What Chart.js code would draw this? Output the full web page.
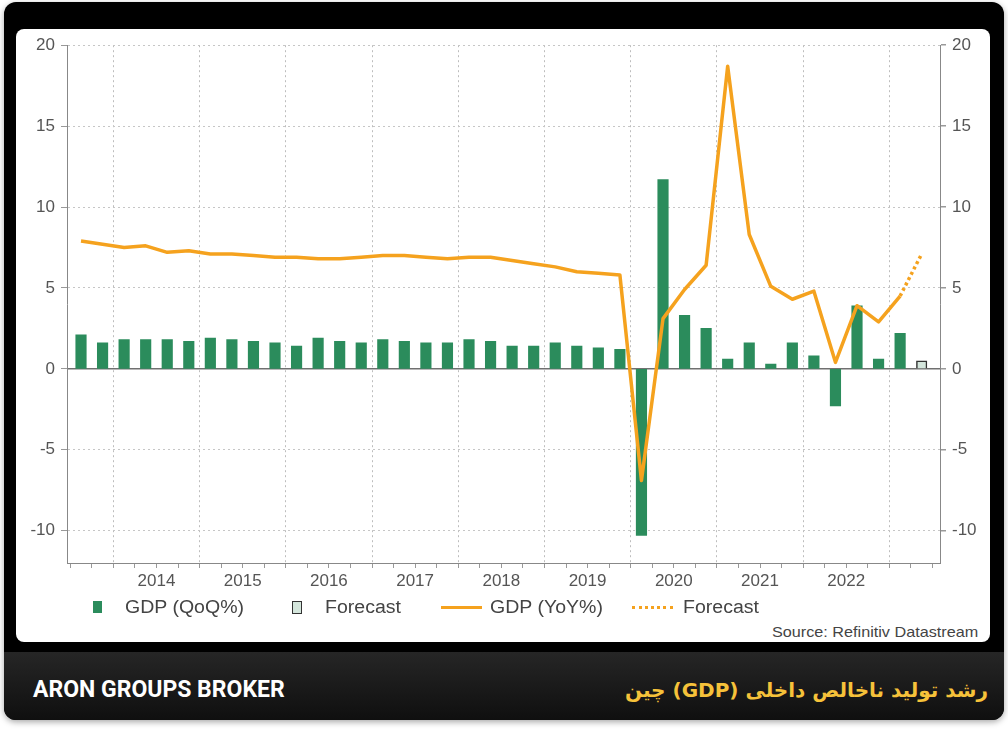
<!DOCTYPE html>
<html lang="en">
<head>
<meta charset="UTF-8">
<title>China GDP growth</title>
<script src="https://cdn.jsdelivr.net/npm/chart.js"></script>
<style>
  body {
    margin: 0;
    width: 1008px;
    height: 731px;
    position: relative;
    background: #fff;
    font-family: "Liberation Sans", Arial, sans-serif;
    overflow: hidden;
  }
  .card {
    position: absolute;
    left: 4px; top: 2px;
    width: 1000px; height: 718px;
    background: #000;
    border-radius: 12px;
    box-shadow: 0 2px 6px rgba(0, 0, 0, 0.35);
  }
  .panel {
    position: absolute;
    left: 16px; top: 29px;
    width: 974px; height: 613px;
    background: #fff;
    border-radius: 8px;
  }
  #chart { position: absolute; left: 16px; top: 29px; }
  .footer {
    position: absolute;
    left: 4px; top: 652px;
    width: 1000px; height: 68px;
    background: linear-gradient(#262626, #0f0f0f);
    border-radius: 0 0 12px 12px;
  }
  .brand {
    position: absolute;
    left: 33px; top: 676px;
    color: #fff;
    font-family: Roboto, "Liberation Sans", sans-serif;
    font-weight: 700;
    font-size: 23px;
    line-height: 28px;
  }
  .title {
    position: absolute;
    right: 20px; top: 675px;
    color: #f6c23a;
    font-family: "DejaVu Sans", sans-serif;
    font-weight: 700;
    font-size: 20px;
    line-height: 30px;
    direction: rtl;
  }
  .lg {
    position: absolute;
    font-size: 18px;
    color: #444;
    line-height: 20px;
    top: 597px;
    transform: scaleX(1.085);
    transform-origin: left center;
  }
  .sw { position: absolute; }
  .source {
    position: absolute;
    left: 772px; top: 624px;
    font-size: 15px;
    color: #444;
    line-height: 16px;
    white-space: nowrap;
    transform: scaleX(1.08);
    transform-origin: left center;
  }
</style>
</head>
<body>
  <div class="card"></div>
  <div class="panel"></div>
  <canvas id="chart" width="974" height="571"></canvas>

  <div class="sw" style="left:93px; top:601px; width:9px; height:12px; background:#2b8c5c;"></div>
  <div class="lg" style="left:125px;">GDP (QoQ%)</div>
  <div class="sw" style="left:292px; top:601px; width:8px; height:11px; background:#d4e6dc; border:1px solid #333;"></div>
  <div class="lg" style="left:325px;">Forecast</div>
  <div class="sw" style="left:441px; top:606px; width:41px; height:3px; background:#f5a21e;"></div>
  <div class="lg" style="left:490px;">GDP (YoY%)</div>
  <div class="sw" style="left:632px; top:606px; width:41px; height:0; border-top:3px dotted #f5a21e;"></div>
  <div class="lg" style="left:683px;">Forecast</div>
  <div class="source">Source: Refinitiv Datastream</div>

  <div class="footer"></div>
  <div class="brand">ARON GROUPS BROKER</div>
  <div class="title">رشد تولید ناخالص داخلی (GDP) چین</div>

<script>
// quarters from 2013 Q3 to 2023 Q2 (last one is the forecast)
const quarters = [
  '2013Q3', '2013Q4',
  '2014Q1', '2014Q2', '2014Q3', '2014Q4',
  '2015Q1', '2015Q2', '2015Q3', '2015Q4',
  '2016Q1', '2016Q2', '2016Q3', '2016Q4',
  '2017Q1', '2017Q2', '2017Q3', '2017Q4',
  '2018Q1', '2018Q2', '2018Q3', '2018Q4',
  '2019Q1', '2019Q2', '2019Q3', '2019Q4',
  '2020Q1', '2020Q2', '2020Q3', '2020Q4',
  '2021Q1', '2021Q2', '2021Q3', '2021Q4',
  '2022Q1', '2022Q2', '2022Q3', '2022Q4',
  '2023Q1', '2023Q2'
];

const gdpQoQ = [
  2.1, 1.6,
  1.8, 1.8, 1.8, 1.7,
  1.9, 1.8, 1.7, 1.6,
  1.4, 1.9, 1.7, 1.6,
  1.8, 1.7, 1.6, 1.6,
  1.8, 1.7, 1.4, 1.4,
  1.6, 1.4, 1.3, 1.2,
  -10.3, 11.7, 3.3, 2.5,
  0.6, 1.6, 0.3, 1.6,
  0.8, -2.3, 3.9, 0.6,
  2.2, null
];
const forecastQoQ = [
  null, null, null, null, null, null, null, null, null, null,
  null, null, null, null, null, null, null, null, null, null,
  null, null, null, null, null, null, null, null, null, null,
  null, null, null, null, null, null, null, null, null, 0.5
];

const gdpYoY = [
  7.9, 7.7,
  7.5, 7.6, 7.2, 7.3,
  7.1, 7.1, 7.0, 6.9,
  6.9, 6.8, 6.8, 6.9,
  7.0, 7.0, 6.9, 6.8,
  6.9, 6.9, 6.7, 6.5,
  6.3, 6.0, 5.9, 5.8,
  -6.9, 3.1, 4.9, 6.4,
  18.7, 8.3, 5.1, 4.3,
  4.8, 0.4, 3.9, 2.9,
  4.5, null
];
const forecastYoY = [
  null, null, null, null, null, null, null, null, null, null,
  null, null, null, null, null, null, null, null, null, null,
  null, null, null, null, null, null, null, null, null, null,
  null, null, null, null, null, null, null, null, 4.5, 7.1
];

const yearLabels = ['2014', '2015', '2016', '2017', '2018', '2019', '2020', '2021', '2022'];
const yTicks = [-10, -5, 0, 5, 10, 15, 20];

const green = '#2b8c5c';
const orange = '#f5a21e';

function points(arr) {
  return arr.map((v, i) => ({ x: i, y: v }));
}

// year label sits at the middle of its four quarters
function yearCenter(year) {
  const first = quarters.indexOf(year + 'Q1');
  return first + 1.5;
}

function isYearStart(value) {
  const q = quarters[value + 0.5];
  return q !== undefined && q.endsWith('Q1');
}

function tickValue(ctx) {
  return ctx && ctx.tick ? ctx.tick.value : null;
}

const yAxisBase = {
  min: -12,
  max: 20,
  afterBuildTicks: (scale) => { scale.ticks = yTicks.map(v => ({ value: v })); },
  ticks: {
    font: { family: 'Liberation Sans', size: 17 },
    color: '#555',
    padding: 6,
    callback: (v) => String(v)
  }
};

new Chart(document.getElementById('chart'), {
  data: {
    datasets: [
      {
        type: 'line',
        label: 'GDP (YoY%)',
        data: points(gdpYoY),
        borderColor: orange,
        borderWidth: 3.5,
        borderJoinStyle: 'round',
        pointRadius: 0,
        tension: 0,
        order: 0
      },
      {
        type: 'line',
        label: 'Forecast',
        data: points(forecastYoY),
        borderColor: orange,
        borderWidth: 3.5,
        borderDash: [3, 3],
        pointRadius: 0,
        tension: 0,
        order: 0
      },
      {
        type: 'bar',
        label: 'GDP (QoQ%)',
        data: points(gdpQoQ),
        backgroundColor: green,
        barThickness: 10.5,
        grouped: false,
        order: 1
      },
      {
        type: 'bar',
        label: 'Forecast',
        data: points(forecastQoQ),
        backgroundColor: '#d4e6dc',
        borderColor: '#333',
        borderWidth: 1.5,
        barThickness: 10.5,
        grouped: false,
        order: 1
      }
    ]
  },
  options: {
    responsive: false,
    animation: false,
    layout: { padding: { top: 12, left: 0, right: 0, bottom: 0 } },
    plugins: {
      legend: { display: false },
      tooltip: { enabled: false }
    },
    scales: {
      x: {
        type: 'linear',
        offset: false,
        min: -0.65,
        max: 39.85,
        afterBuildTicks: (scale) => {
          scale.ticks = quarters.concat(['end']).map((q, i) => ({ value: i - 0.5 }));
        },
        afterFit: (scale) => { scale.height = 37; },
        grid: {
          offset: false,
          color: (ctx) => isYearStart(tickValue(ctx)) ? '#bdbdbd' : 'transparent',
          tickColor: '#999',
          tickLength: 5,
          tickBorderDash: []
        },
        border: { display: true, color: '#888', dash: [2, 3] },
        ticks: {
          autoSkip: false,
          maxRotation: 0,
          padding: 3,
          font: { family: 'Liberation Sans', size: 17 },
          color: '#555',
          callback: (v) => {
            const y = yearLabels.find(yr => yearCenter(yr) === v);
            return y || '';
          }
        }
      },
      y: Object.assign({}, yAxisBase, {
        position: 'left',
        afterFit: (scale) => { scale.width = 51; },
        grid: {
          color: (ctx) => tickValue(ctx) === 0 ? 'transparent' : '#c6c6c6',
          tickColor: '#999',
          tickLength: 6,
          tickBorderDash: []
        },
        border: { display: true, color: '#888', dash: [2, 3] }
      }),
      y2: Object.assign({}, yAxisBase, {
        position: 'right',
        afterFit: (scale) => { scale.width = 50; },
        grid: {
          color: (ctx) => tickValue(ctx) === 0 ? '#707070' : 'transparent',
          lineWidth: 1.5,
          tickColor: '#999',
          tickLength: 6
        },
        border: { display: true, color: '#888' }
      })
    }
  }
});
</script>
</body>
</html>
